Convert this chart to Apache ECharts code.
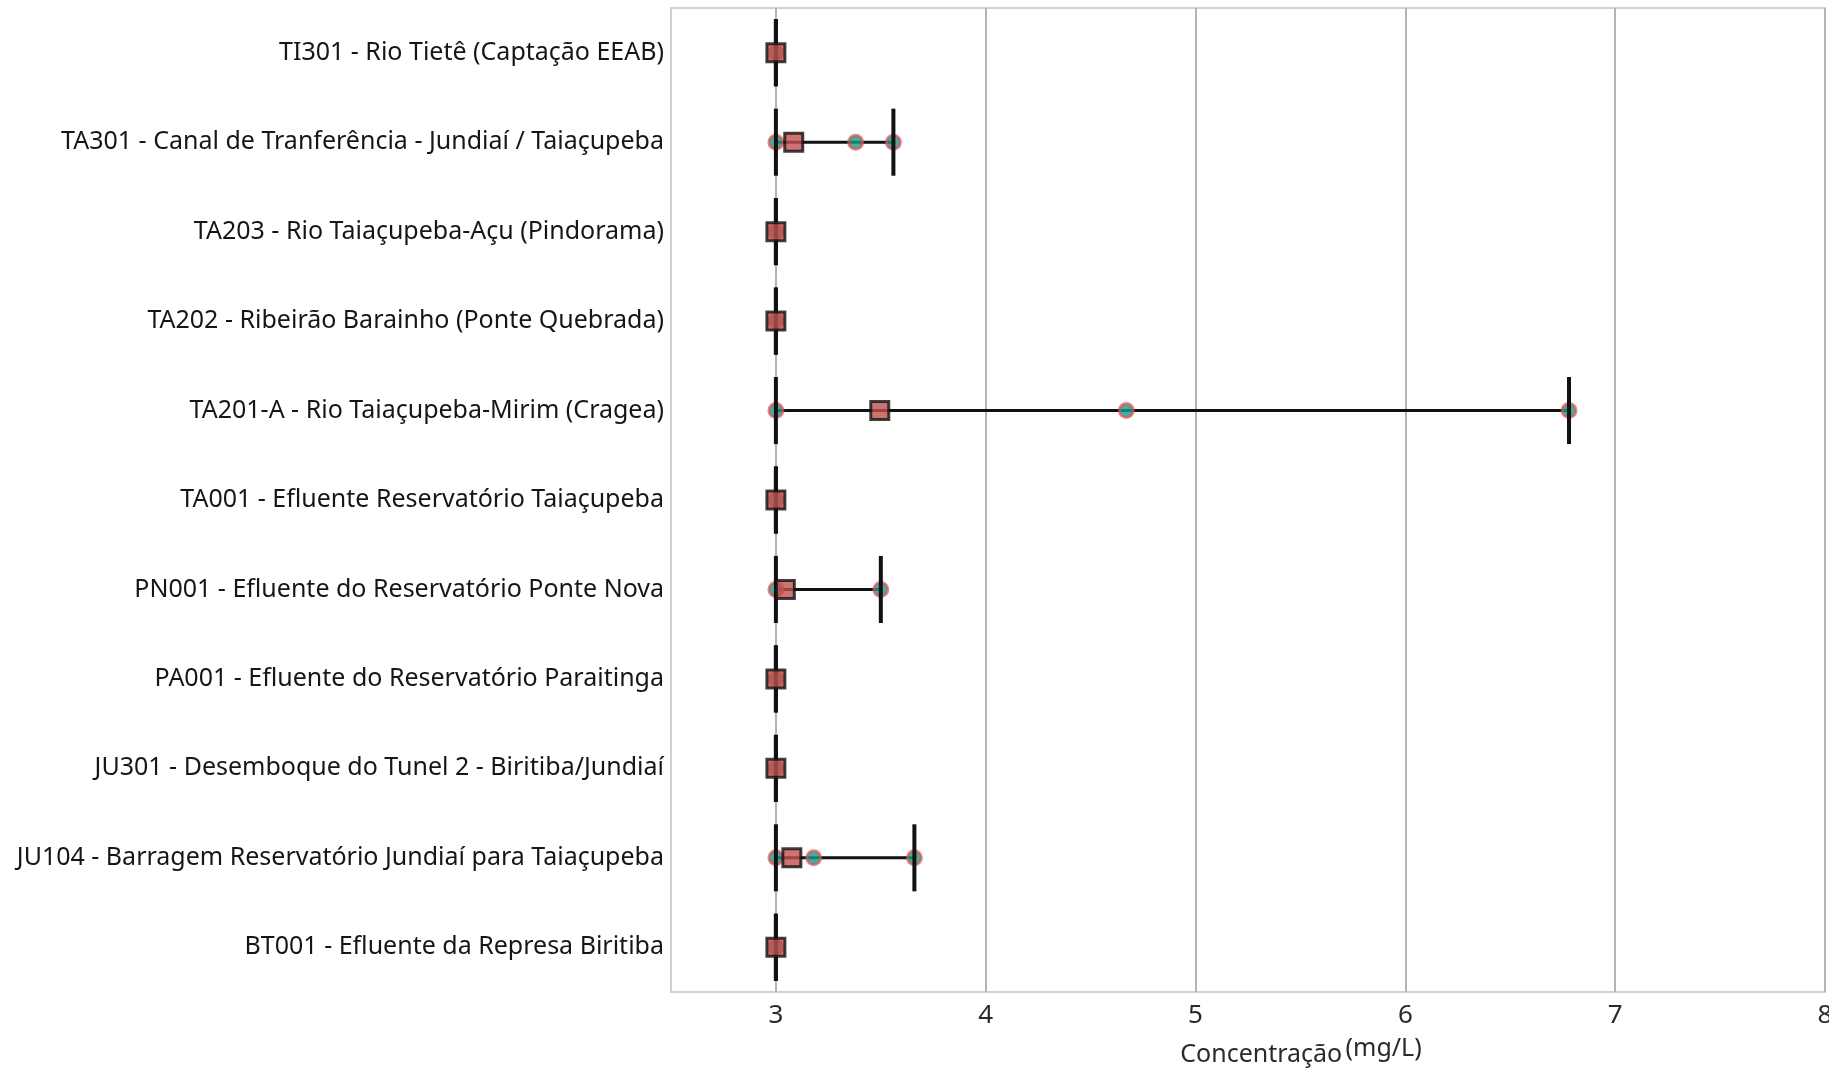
<!DOCTYPE html>
<html>
<head>
<meta charset="utf-8">
<title>Concentração por ponto de amostragem</title>
<script src="https://cdn.jsdelivr.net/npm/echarts@6/dist/echarts.min.js"></script>
<style>
  html, body { margin: 0; padding: 0; background: #ffffff; }
  #chart { width: 1829px; height: 1070px; }
</style>
</head>
<body>
<div id="chart"></div>
<script>
// Sampling stations, listed top to bottom
const stations = [
  'TI301 - Rio Tietê (Captação EEAB)',
  'TA301 - Canal de Tranferência - Jundiaí / Taiaçupeba',
  'TA203 - Rio Taiaçupeba-Açu (Pindorama)',
  'TA202 - Ribeirão Barainho (Ponte Quebrada)',
  'TA201-A - Rio Taiaçupeba-Mirim (Cragea)',
  'TA001 - Efluente Reservatório Taiaçupeba',
  'PN001 - Efluente do Reservatório Ponte Nova',
  'PA001 - Efluente do Reservatório Paraitinga',
  'JU301 - Desemboque do Tunel 2 - Biritiba/Jundiaí',
  'JU104 - Barragem Reservatório Jundiaí para Taiaçupeba',
  'BT001 - Efluente da Represa Biritiba'
];

// Lowest and highest concentration per station (mg/L)
const minValues = [3, 3, 3, 3, 3, 3, 3, 3, 3, 3, 3];
const maxValues = [3, 3.56, 3, 3, 6.78, 3, 3.5, 3, 3, 3.66, 3];

// Mean concentration per station (mg/L)
const meanValues = [3, 3.085, 3, 3, 3.495, 3, 3.045, 3, 3, 3.076, 3];

// Distinct measured values per station (mg/L)
const sampleValues = [
  [3],
  [3, 3.38, 3.56],
  [3],
  [3],
  [3, 4.67, 6.78],
  [3],
  [3, 3.5],
  [3],
  [3],
  [3, 3.18, 3.66],
  [3]
];

// Value-axis tick labels
const xTicks = [3, 4, 5, 6, 7, 8];

const rangeData = stations.map((s, i) => [minValues[i], i, maxValues[i]]);
const meanData = stations.map((s, i) => [meanValues[i], i]);
const sampleData = [];
sampleValues.forEach((vals, i) => vals.forEach(v => sampleData.push([v, i])));

const LABEL_FONT = "'Noto Sans', 'Open Sans', sans-serif";

// horizontal min-max line
function renderRange(params, api) {
  const a = api.coord([api.value(0), api.value(1)]);
  const b = api.coord([api.value(2), api.value(1)]);
  return {
    type: 'line',
    shape: { x1: a[0], y1: a[1], x2: b[0], y2: b[1] },
    style: { stroke: '#111111', lineWidth: 3 }
  };
}

// vertical end caps at min and max
function renderCaps(params, api) {
  const a = api.coord([api.value(0), api.value(1)]);
  const b = api.coord([api.value(2), api.value(1)]);
  const half = api.size([0, 1])[1] * 0.375;
  return {
    type: 'group',
    children: [
      { type: 'line', shape: { x1: a[0], y1: a[1] - half, x2: a[0], y2: a[1] + half },
        style: { stroke: '#111111', lineWidth: 4 } },
      { type: 'line', shape: { x1: b[0], y1: b[1] - half, x2: b[0], y2: b[1] + half },
        style: { stroke: '#111111', lineWidth: 4 } }
    ]
  };
}

const chart = echarts.init(document.getElementById('chart'), null, { renderer: 'canvas' });

chart.setOption({
  backgroundColor: '#ffffff',
  animation: false,
  grid: {
    left: 671, right: 4, top: 8, bottom: 78,
    show: true, borderColor: '#d0d0d0', borderWidth: 2,
    containLabel: false,
    outerBoundsMode: 'none'
  },
  xAxis: {
    type: 'value',
    min: 2.5,
    max: 8,
    axisLine: { show: false },
    axisTick: { show: false, customValues: xTicks },
    axisLabel: {
      customValues: xTicks,
      fontFamily: LABEL_FONT,
      fontSize: 26,
      color: '#2a2a2a',
      margin: 11
    },
    splitLine: { show: true, lineStyle: { color: '#b4b4b4', width: 2 } },
    name: '{a|Concentração} {b|(mg/L)}',
    nameLocation: 'middle',
    nameGap: 44,
    nameTextStyle: {
      padding: [0, 0, 0, 106],
      rich: {
        a: { fontFamily: LABEL_FONT, fontSize: 25, color: '#2a2a2a', padding: [6, 0, 0, 0] },
        b: { fontFamily: LABEL_FONT, fontSize: 25, color: '#2a2a2a', padding: [0, 0, 6, 0] }
      }
    }
  },
  yAxis: {
    type: 'category',
    data: stations,
    inverse: true,
    axisLine: { show: false },
    axisTick: { show: false },
    splitLine: { show: false },
    axisLabel: {
      fontFamily: LABEL_FONT,
      fontSize: 25,
      color: '#161616',
      margin: 7,
      padding: [9, 0, 0, 0]
    }
  },
  series: [
    {
      type: 'custom',
      name: 'intervalo',
      renderItem: renderRange,
      encode: { x: [0, 2], y: 1 },
      data: rangeData,
      z: 2
    },
    {
      type: 'scatter',
      name: 'amostras',
      symbol: 'circle',
      symbolSize: 14,
      itemStyle: { color: '#16998a', borderColor: 'rgba(224, 80, 80, 0.85)', borderWidth: 3 },
      data: sampleData,
      z: 3
    },
    {
      type: 'custom',
      name: 'extremos',
      renderItem: renderCaps,
      encode: { x: [0, 2], y: 1 },
      data: rangeData,
      z: 4
    },
    {
      type: 'scatter',
      name: 'média',
      symbol: 'rect',
      symbolSize: 18,
      itemStyle: { color: '#c0504d', borderColor: '#111111', borderWidth: 3 },
      data: meanData,
      z: 5
    }
  ]
});
</script>
</body>
</html>
